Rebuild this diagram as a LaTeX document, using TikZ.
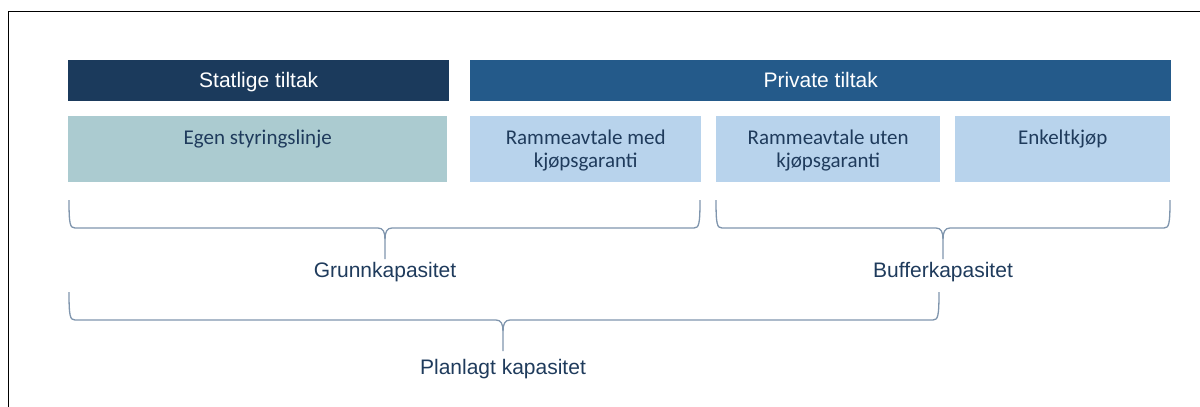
\documentclass[tikz,border=0pt]{standalone}
\usepackage{fontspec}
\setmainfont{Liberation Sans}
\newfontfamily\calibrifont{Carlito}
\definecolor{statcol}{HTML}{1B3A5C}
\definecolor{privcol}{HTML}{245A8A}
\definecolor{egencol}{HTML}{ABCBD0}
\definecolor{lightcol}{HTML}{B8D3EC}
\definecolor{txtcol}{HTML}{1F3B5C}
\definecolor{bracecol}{HTML}{7F95AD}
\tikzset{
  header/.style={anchor=north west, inner sep=0pt, minimum height=41pt,
    text=white, font=\fontsize{21}{24}\selectfont, text height=17pt, text depth=3pt},
  subbox/.style={anchor=north west, inner sep=0pt, minimum height=66pt},
  subtext/.style={anchor=north, inner sep=0pt, align=center, text=txtcol,
    font=\calibrifont\fontsize{21}{23.5}\selectfont},
  caplabel/.style={anchor=base, inner sep=0pt, text=txtcol,
    font=\fontsize{21}{24}\selectfont},
  bracket/.style={draw=bracecol, line width=1.3pt, line join=round},
}
% curly brace opening downwards: left x, right x, middle x, top y, bar y, tip y
\newcommand\capbrace[6]{%
  \draw[bracket] (#1,#4) .. controls (#1,#5-4) and (#1+1,#5) .. (#1+6,#5)
    -- (#3-7,#5) .. controls (#3-2,#5) and (#3,#5+4) .. (#3,#5+11) -- (#3,#6);
  \draw[bracket] (#2,#4) .. controls (#2,#5-4) and (#2-1,#5) .. (#2-6,#5)
    -- (#3+7,#5) .. controls (#3+2,#5) and (#3,#5+4) .. (#3,#5+11);
}
\begin{document}
\begin{tikzpicture}[x=1pt,y=-1pt]
  \useasboundingbox (0,0) rectangle (1200,407);
  % frame
  \draw[line width=1.8pt, black] (8.5,407) -- (8.5,11.5) -- (1200,11.5);

  % headers
  \node[header, fill=statcol, minimum width=381pt] (stat) at (68,60) {Statlige tiltak};
  \node[header, fill=privcol, minimum width=701pt] (priv) at (470,60) {Private tiltak};

  % measures
  \node[subbox, fill=egencol, minimum width=379pt] (egen) at (68,116) {};
  \node[subbox, fill=lightcol, minimum width=231pt] (med) at (470,116) {};
  \node[subbox, fill=lightcol, minimum width=224pt] (uten) at (716,116) {};
  \node[subbox, fill=lightcol, minimum width=215pt] (enk) at (955,116) {};

  \node[subtext] (egent) at ([yshift=-13.3pt]egen.north) {Egen styringslinje};
  \node[subtext] (medt) at ([yshift=-13.3pt]med.north) {Rammeavtale med\\kjøpsgaranti};
  \node[subtext] (utent) at ([yshift=-13.3pt]uten.north) {Rammeavtale uten\\kjøpsgaranti};
  \node[subtext] (enkt) at ([yshift=-13.3pt]enk.north) {Enkeltkjøp};

  % capacity braces
  \capbrace{69}{700}{385}{200}{228}{259}
  \capbrace{716}{1170}{943}{200}{228}{259}
  \capbrace{69}{939}{503}{292}{320}{351}

  \node[caplabel] (grunn) at (385,277) {Grunnkapasitet};
  \node[caplabel] (buffer) at (943,277) {Bufferkapasitet};
  \node[caplabel] (plan) at (503,374) {Planlagt kapasitet};
\end{tikzpicture}
\end{document}
